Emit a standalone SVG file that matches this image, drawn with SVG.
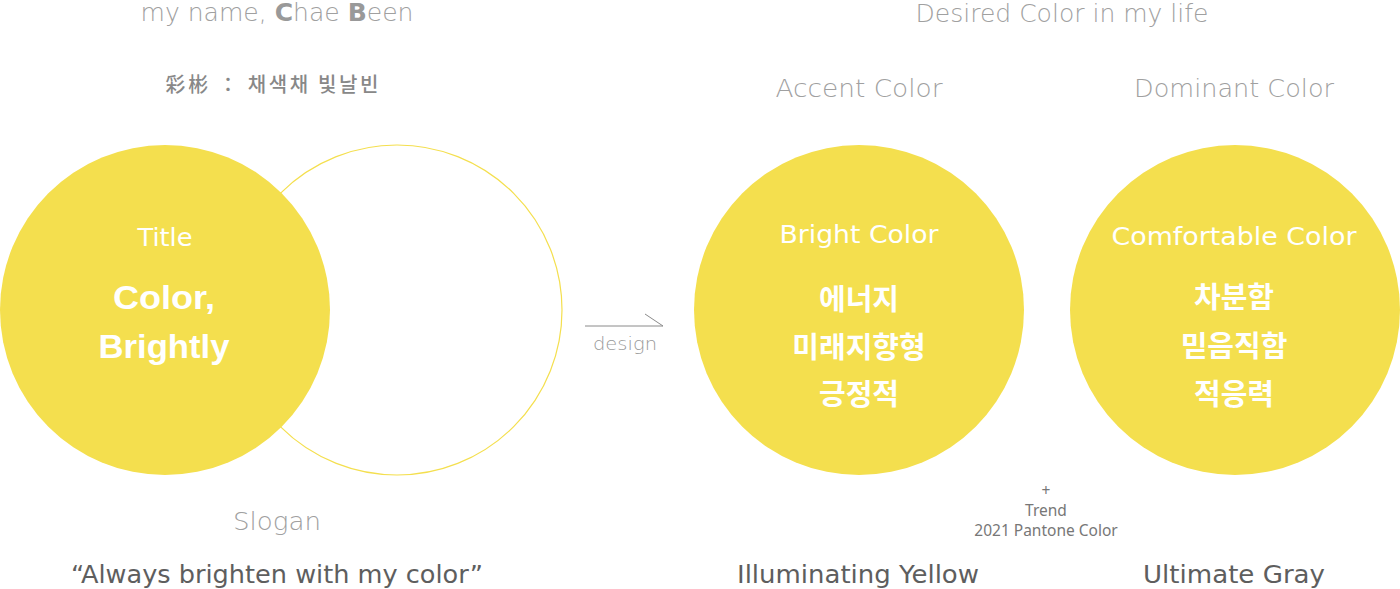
<svg xmlns="http://www.w3.org/2000/svg" width="1400" height="589" viewBox="0 0 1400 589">
<style>
.fill{fill:#F4DF4E}
.ring{fill:none;stroke:#F4DF4E;stroke-width:1.2}
.lt{font-family:"DejaVu Sans","Liberation Sans",sans-serif;font-weight:200;text-anchor:middle}
.hd{fill:#A0A0A0;font-size:24px}
.wt{fill:#FFFFFF;font-size:24px;font-weight:400}
.kr{font-family:"Noto Sans CJK KR","Noto Sans",sans-serif;font-weight:700;fill:#FFFFFF;font-size:29px;text-anchor:middle}
.bt{font-family:"DejaVu Sans","Liberation Sans",sans-serif;fill:#5E5E5E;font-size:25px;text-anchor:middle}
.sm{font-family:"Noto Sans","Noto Sans CJK KR",sans-serif;fill:#777;font-size:15.5px;text-anchor:middle}
.cn{stroke:#8A8A8A;stroke-width:1;fill:none}
</style>
<rect width="1400" height="589" fill="#FFFFFF"/>
<g id="header-left">
<text class="lt hd" x="277" y="21" textLength="273" lengthAdjust="spacingAndGlyphs">my name, <tspan font-weight="700" fill="#999">C</tspan>hae <tspan font-weight="700" fill="#999">B</tspan>een</text>
<text x="272" y="92" font-family="Noto Sans CJK KR,Noto Sans CJK SC,sans-serif" font-size="20" font-weight="500" fill="#888" text-anchor="middle" textLength="213" lengthAdjust="spacing">彩彬 ： 채색채 빛날빈</text>
</g>
<g id="node-outline"><circle class="ring" cx="397" cy="310" r="165"/></g>
<g id="node-title">
<circle class="fill" cx="165" cy="310" r="165"/>
<text class="lt wt" x="165" y="246" textLength="55" lengthAdjust="spacingAndGlyphs">Title</text>
<text x="164" y="309" font-family="Liberation Sans,Arial,sans-serif" font-weight="700" font-size="33" fill="#FFF" text-anchor="middle" textLength="102" lengthAdjust="spacingAndGlyphs">Color,</text>
<text x="164" y="358" font-family="Liberation Sans,Arial,sans-serif" font-weight="700" font-size="33" fill="#FFF" text-anchor="middle" textLength="131" lengthAdjust="spacingAndGlyphs">Brightly</text>
</g>
<g id="connectors">
<path class="cn" d="M585 326 H663 L645 314"/>
<text class="lt" x="625" y="350" font-size="17" fill="#999" textLength="64" lengthAdjust="spacingAndGlyphs">design</text>
</g>
<g id="header-right">
<text class="lt hd" x="1062" y="22" textLength="293" lengthAdjust="spacingAndGlyphs">Desired Color in my life</text>
<text class="lt hd" x="859" y="97" font-size="25" textLength="167" lengthAdjust="spacingAndGlyphs">Accent Color</text>
<text class="lt hd" x="1234" y="97" font-size="25" textLength="200" lengthAdjust="spacingAndGlyphs">Dominant Color</text>
</g>
<g id="node-accent">
<circle class="fill" cx="859" cy="310" r="165"/>
<text class="lt wt" x="859" y="243" textLength="159" lengthAdjust="spacingAndGlyphs">Bright Color</text>
<text class="kr" x="859" y="310">에너지</text>
<text class="kr" x="859" y="358">미래지향형</text>
<text class="kr" x="859" y="405">긍정적</text>
</g>
<g id="node-dominant">
<circle class="fill" cx="1235" cy="310" r="165"/>
<text class="lt wt" x="1234" y="245" textLength="245" lengthAdjust="spacingAndGlyphs">Comfortable Color</text>
<text class="kr" x="1234" y="308">차분함</text>
<text class="kr" x="1234" y="357">믿음직함</text>
<text class="kr" x="1234" y="405">적응력</text>
</g>
<g id="trend">
<text class="sm" x="1046" y="496">+</text>
<text class="sm" x="1046" y="516">Trend</text>
<text class="sm" x="1046" y="536">2021 Pantone Color</text>
</g>
<g id="footer">
<text class="lt hd" x="277" y="530" font-size="25" textLength="88" lengthAdjust="spacingAndGlyphs">Slogan</text>
<text class="bt" x="277" y="583" textLength="412" lengthAdjust="spacingAndGlyphs">“Always brighten with my color”</text>
<text class="bt" x="858" y="583" textLength="242" lengthAdjust="spacingAndGlyphs">Illuminating Yellow</text>
<text class="bt" x="1234" y="583" textLength="182" lengthAdjust="spacingAndGlyphs">Ultimate Gray</text>
</g>
</svg>
